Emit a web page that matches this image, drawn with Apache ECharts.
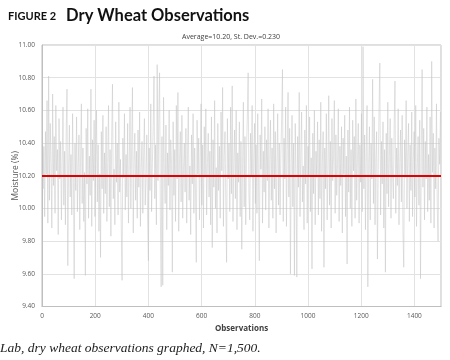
<!DOCTYPE html>
<html>
<head>
<meta charset="utf-8">
<script src="https://cdn.jsdelivr.net/npm/echarts@6/dist/echarts.min.js"></script>
<style>html,body{margin:0;padding:0;background:#fff}#c{width:450px;height:360px}</style>
</head>
<body>
<div id="c"></div>
<script>
const obsStart = 1;
const obsStep = 3;
const moisture = [
10.59,10.12,10.38,9.95,10.47,10.21,10.66,9.91,10.81,10.05,10.52,10.28,9.88,10.70,10.14,10.44,9.97,10.63,10.23,10.36,
9.84,10.55,10.18,10.41,9.93,10.29,10.62,10.02,10.35,9.90,10.48,10.73,9.65,10.26,10.51,10.07,10.33,9.96,10.58,10.19,
9.57,10.40,10.11,10.56,9.98,10.25,10.45,9.87,10.31,10.64,10.03,10.37,9.92,10.22,9.59,10.49,10.15,10.61,9.94,10.32,
10.08,10.73,9.89,10.42,10.17,10.54,9.95,10.27,10.60,10.04,10.39,9.86,10.21,9.70,10.47,10.12,10.57,9.97,10.34,10.09,
10.50,9.92,10.28,10.63,10.01,10.36,9.83,10.44,10.76,10.06,10.24,9.90,10.53,10.16,10.40,9.96,10.65,10.10,10.30,9.88,
9.56,10.43,10.19,10.58,9.99,10.33,10.07,10.52,9.91,10.26,10.62,10.00,10.38,10.74,9.85,10.29,10.46,10.05,10.35,9.94,
10.48,10.13,10.59,9.89,10.25,10.41,9.97,10.32,10.55,10.02,10.20,10.45,9.93,9.68,10.37,10.11,10.64,9.98,10.28,10.50,
10.81,10.06,10.39,9.90,10.88,10.17,10.56,10.83,9.95,9.52,10.44,9.53,10.68,10.22,10.03,10.51,9.87,10.34,10.14,10.60,
9.99,10.42,10.27,9.61,10.53,10.08,10.36,9.92,10.63,10.18,10.71,9.86,10.30,10.47,10.04,10.57,9.94,10.24,10.40,10.10,
10.49,9.91,10.33,10.62,10.05,10.26,9.84,10.45,10.15,10.58,9.97,10.37,10.12,9.67,10.54,10.21,10.43,9.93,10.31,10.64,
10.02,10.39,9.88,10.50,10.19,10.61,9.96,10.28,10.46,10.07,10.35,9.90,10.56,9.76,10.42,10.13,10.66,10.00,10.25,9.85,
10.52,10.11,10.38,9.94,10.59,10.23,10.74,9.89,10.32,10.47,10.04,9.67,10.55,10.18,10.40,9.98,10.62,10.09,10.75,9.92,
10.29,10.48,10.06,10.60,9.87,10.34,10.16,10.53,9.95,10.41,9.75,10.27,10.65,10.01,10.44,9.90,10.36,10.57,10.83,10.08,
9.93,10.46,10.20,10.63,9.86,10.31,10.52,10.03,10.39,9.97,10.58,10.14,9.68,10.45,10.24,10.67,9.91,10.35,10.10,10.50,
9.99,10.42,10.17,10.61,9.88,10.30,10.54,10.05,10.37,9.94,10.64,10.12,10.47,9.85,10.26,10.58,10.02,10.40,9.96,10.33,
10.55,10.85,9.92,10.43,10.18,10.62,9.89,10.36,10.71,10.07,10.49,9.60,10.28,10.57,10.01,10.40,9.59,10.52,10.22,9.58,
10.44,10.13,10.71,9.95,10.34,10.59,10.04,10.26,9.87,10.48,10.15,10.63,9.91,10.38,10.20,10.56,9.98,10.31,9.63,10.46,
10.09,10.60,9.90,10.35,10.19,10.53,9.96,10.42,10.06,10.65,9.86,10.29,10.47,9.64,10.37,10.12,10.58,9.93,10.24,10.69,
10.02,10.41,9.88,10.55,10.17,10.33,10.66,9.97,10.45,10.08,10.27,10.61,9.92,10.38,10.14,10.50,9.85,10.43,10.21,10.57,
9.95,10.32,9.66,10.48,10.10,10.62,10.00,10.36,9.89,10.54,10.23,10.44,9.94,10.67,10.05,10.30,10.52,9.91,10.39,10.16,
10.58,9.98,10.99,10.12,10.45,9.87,10.35,10.63,9.52,10.27,10.50,9.93,10.40,10.18,10.79,10.03,10.56,9.90,10.31,10.47,
9.69,10.24,10.60,10.89,9.96,10.41,10.15,10.53,9.88,10.36,9.61,10.46,10.09,10.65,10.01,10.32,10.55,9.94,10.43,10.20,
10.06,10.51,10.78,9.97,10.37,10.14,10.61,9.90,10.28,10.48,10.04,10.57,9.86,9.64,10.42,10.19,10.66,10.00,10.34,10.52,
9.92,10.39,10.11,10.59,9.95,10.30,10.47,10.07,10.63,9.89,10.25,10.44,10.02,10.54,9.57,10.35,10.85,10.13,10.49,9.93,
10.41,10.18,10.62,9.98,10.33,10.05,10.56,9.91,10.90,10.22,10.46,9.88,10.37,10.12,10.64,10.01,9.80,10.43,10.27,10.59
];
const average = 10.20;
const stDev = 0.230;
const xTicks = [0, 200, 400, 600, 800, 1000, 1200, 1400];
const yTicks = [9.40, 9.60, 9.80, 10.00, 10.20, 10.40, 10.60, 10.80, 11.00];

const points = moisture.map((v, i) => [obsStart + i * obsStep, v]);

const chart = echarts.init(document.getElementById('c'), null, {renderer: 'canvas'});
chart.setOption({
  animation: false,
  backgroundColor: '#fff',
  title: [
    {
      text: '{a|FIGURE 2}  {b|Dry Wheat Observations}',
      left: 3, top: 2,
      textStyle: {
        rich: {
          a: {fontFamily: 'Lato', fontWeight: 'bold', fontSize: 11, color: '#111'},
          b: {fontFamily: 'Lato', fontWeight: 'bold', fontSize: 16.5, color: '#111'}
        }
      }
    },
    {
      text: 'Average=' + average.toFixed(2) + ', St. Dev.=' + stDev.toFixed(3),
      left: 226, top: 28, textAlign: 'center',
      textStyle: {fontFamily: 'Open Sans', fontSize: 7, fontWeight: 'normal', color: '#404040'}
    }
  ],
  graphic: [
    {
      type: 'text', left: 0, top: 341,
      style: {text: 'Lab, dry wheat observations graphed, N=1,500.', font: 'italic 13.5px "Liberation Serif"', fill: '#222'}
    }
  ],
  grid: {left: 42, right: 9, top: 45, bottom: 53.5, show: true, borderColor: '#bfbfbf', borderWidth: 1, containLabel: false, outerBoundsMode: 'none'},
  xAxis: {
    type: 'value', min: xTicks[0], max: 1500, interval: xTicks[1] - xTicks[0],
    name: 'Observations', nameLocation: 'middle', nameGap: 15,
    nameTextStyle: {fontFamily: 'Open Sans', fontSize: 8, fontWeight: 'bold', color: '#404040'},
    axisLine: {show: true, lineStyle: {color: '#bfbfbf'}},
    axisTick: {show: false},
    axisLabel: {fontFamily: 'Open Sans', fontSize: 6.5, color: '#595959', margin: 6, showMaxLabel: false, formatter: v => String(v)},
    splitLine: {show: true, lineStyle: {color: '#e2e2e2', width: 1}}
  },
  yAxis: {
    type: 'value', min: yTicks[0], max: yTicks[yTicks.length - 1], interval: 0.2,
    name: 'Moisture (%)', nameLocation: 'middle', nameGap: 22, nameRotate: 90, nameMoveOverlap: false,
    nameTextStyle: {fontFamily: 'Open Sans', fontSize: 8.5, color: '#595959'},
    axisLine: {show: true, lineStyle: {color: '#bfbfbf'}},
    axisTick: {show: false},
    axisLabel: {fontFamily: 'Open Sans', fontSize: 6.5, color: '#595959', margin: 7, formatter: v => v.toFixed(2)},
    splitLine: {show: true, lineStyle: {color: '#e2e2e2', width: 1}}
  },
  series: [
    {
      type: 'line', data: points, symbol: 'none', silent: true,
      lineStyle: {color: '#c4c4c4', width: 0.5},
      markLine: {
        silent: true, symbol: 'none', label: {show: false},
        lineStyle: {color: '#e00000', width: 1.8, type: 'solid'},
        data: [{yAxis: average}]
      }
    }
  ]
});
</script>
</body>
</html>
